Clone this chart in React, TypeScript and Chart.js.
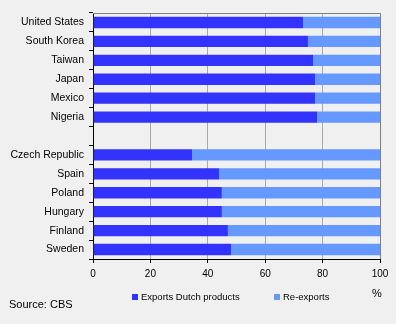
import React, { useEffect, useRef } from "react";
import { Chart, registerables } from "chart.js";

Chart.register(...registerables);

const categories = [
  "United States", "South Korea", "Taiwan", "Japan", "Mexico", "Nigeria", "",
  "Czech Republic", "Spain", "Poland", "Hungary", "Finland", "Sweden",
];
const dutchProducts = [73.2, 74.9, 76.7, 77.4, 77.4, 78.1, null, 34.5, 43.9, 44.9, 44.9, 47.0, 48.1];
const reExports = dutchProducts.map((v) => (v === null ? null : 100 - v));
const xTicks = [0, 20, 40, 60, 80, 100];
const seriesNames = ["Exports Dutch products", "Re-exports"];
const colors = ["#3333ff", "#6699ff"];
const sourceText = "Source: CBS";
const unitText = "%";

const FONT = "Arial, 'Liberation Sans', sans-serif";

export default function App() {
  const ref = useRef<HTMLCanvasElement>(null);
  useEffect(() => {
    const extras = {
      id: "extras",
      beforeDraw(chart: any) {
        const c = chart.ctx;
        c.save();
        c.fillStyle = "#f0f0f0";
        c.fillRect(0, 0, chart.width, chart.height);
        c.restore();
      },
      afterDraw(chart: any) {
        const c = chart.ctx;
        const a = chart.chartArea;
        c.save();
        c.strokeStyle = "#808080";
        c.lineWidth = 1;
        c.beginPath();
        c.moveTo(a.left, a.top + 0.5);
        c.lineTo(a.right + 0.5, a.top + 0.5);
        c.lineTo(a.right + 0.5, a.bottom);
        c.stroke();
        // legend
        c.font = "9.5px " + FONT;
        c.textBaseline = "middle";
        c.textAlign = "left";
        const legendY = 297;
        const xs = [132, 274];
        seriesNames.forEach((n, i) => {
          c.fillStyle = colors[i];
          c.fillRect(xs[i], legendY - 3, 6, 6);
          c.fillStyle = "#000";
          c.fillText(n, xs[i] + 9, legendY);
        });
        c.font = "11px " + FONT;
        c.textAlign = "center";
        c.fillText(unitText, 377, 294);
        c.textAlign = "left";
        c.fillText(sourceText, 9, 305);
        c.restore();
      },
    };
    const chart = new Chart(ref.current!, {
      type: "bar",
      data: {
        labels: categories,
        datasets: [
          { label: seriesNames[0], data: dutchProducts as any, backgroundColor: colors[0], barPercentage: 0.6, categoryPercentage: 1 },
          { label: seriesNames[1], data: reExports as any, backgroundColor: colors[1], barPercentage: 0.6, categoryPercentage: 1 },
        ],
      },
      options: {
        indexAxis: "y",
        animation: false,
        responsive: false,
        layout: { padding: { left: 0, right: 16, top: 13, bottom: 40 } },
        plugins: { legend: { display: false }, tooltip: { enabled: false } },
        scales: {
          x: {
            stacked: true,
            min: 0,
            max: 100,
            afterBuildTicks: (s: any) => { s.ticks = xTicks.map((v) => ({ value: v })); },
            afterFit: (s: any) => { s.height = 25; },
            ticks: { color: "#000", font: { size: 10, family: FONT }, padding: 5, maxRotation: 0 },
            grid: { color: "#a8a8a8", tickColor: "#000", tickLength: 4 },
            border: { color: "#000" },
          },
          y: {
            stacked: true,
            afterFit: (s: any) => { s.width = 93; },
            ticks: { color: "#000", font: { size: 10.5, family: FONT }, padding: 5, autoSkip: false },
            grid: { drawOnChartArea: false, tickColor: "#000", tickLength: 4, offset: true },
            border: { color: "#000" },
          },
        },
      },
      plugins: [extras],
    });
    return () => chart.destroy();
  }, []);
  return (
    <div style={{ position: "fixed", left: 0, top: 0, width: 396, height: 324 }}>
      <canvas ref={ref} width={396} height={324} style={{ display: "block" }} />
    </div>
  );
}
